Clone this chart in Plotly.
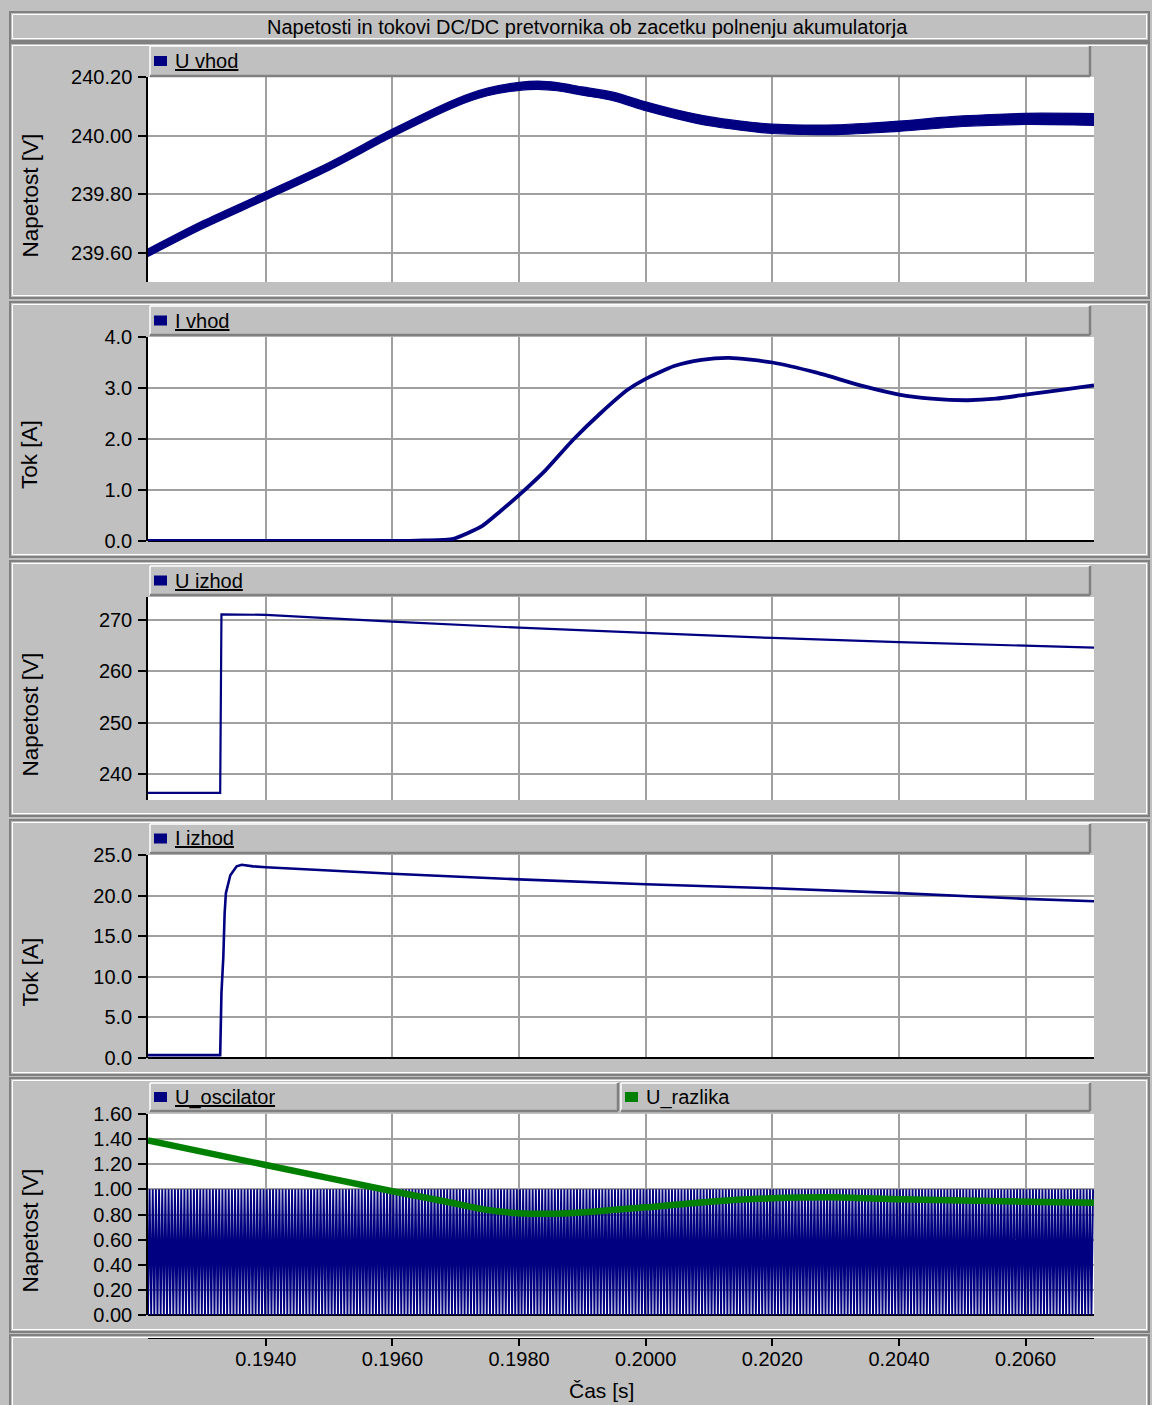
import numpy as np
import plotly.graph_objects as go

W, H = 1152, 1405
FONT = "Liberation Sans, Arial, sans-serif"
NAVY = "#000080"
GREEN = "#008000"
GRID = "#A0A0A0"
BG = "#C0C0C0"

# ---------------- data ----------------
x_range = [0.19214, 0.20708]
x_ticks = [0.1940, 0.1960, 0.1980, 0.2000, 0.2020, 0.2040, 0.2060]

t_uvhod = [0.19214, 0.1930, 0.1940, 0.1950, 0.1960, 0.1970, 0.1975, 0.1980, 0.1983, 0.1986,
           0.1990, 0.1995, 0.2000, 0.2005, 0.2010, 0.2015, 0.2020, 0.2025, 0.2030,
           0.2035, 0.2040, 0.2050, 0.2060, 0.20708]
u_vhod = [239.600, 239.695, 239.794, 239.895, 240.009, 240.112, 240.149, 240.168, 240.172, 240.167,
          240.152, 240.133, 240.100, 240.072, 240.049, 240.034, 240.023, 240.020, 240.020,
          240.025, 240.032, 240.049, 240.057, 240.055]
u_vhod_ripple = [0.026, 0.026, 0.026, 0.026, 0.026, 0.026, 0.026, 0.027, 0.028, 0.028,
                 0.028, 0.029, 0.030, 0.030, 0.031, 0.031, 0.032, 0.032, 0.033,
                 0.034, 0.035, 0.036, 0.038, 0.040]

t_ivhod = [0.19214, 0.1961, 0.1965, 0.1968, 0.19696, 0.1974, 0.1977, 0.1980, 0.19842,
           0.19885, 0.19929, 0.19972, 0.2000, 0.20045, 0.20088, 0.20132, 0.2020, 0.2027,
           0.20342, 0.2040, 0.20451, 0.20509, 0.20553, 0.2060, 0.20654, 0.20708]
i_vhod = [0.0, 0.0, 0.01, 0.02, 0.04, 0.28, 0.58, 0.90, 1.39,
          1.98, 2.51, 2.97, 3.18, 3.43, 3.55, 3.59, 3.50, 3.30,
          3.04, 2.87, 2.79, 2.76, 2.79, 2.87, 2.96, 3.05]

t_uizhod = [0.19214, 0.19328, 0.19330, 0.1940, 0.1960, 0.1980, 0.2000, 0.2020, 0.2040,
            0.2060, 0.20708]
u_izhod = [236.3, 236.3, 271.1, 271.0, 269.7, 268.5, 267.5, 266.5, 265.7, 264.95, 264.6]

t_iizhod = [0.19214, 0.19328, 0.19330, 0.19333, 0.19335, 0.19337, 0.19344, 0.19354,
            0.19362, 0.19380, 0.1940, 0.1960, 0.1980, 0.2000, 0.2020, 0.2040, 0.2060, 0.20708]
i_izhod = [0.35, 0.35, 8.0, 12.5, 17.8, 20.3, 22.5, 23.6,
           23.8, 23.6, 23.5, 22.7, 22.0, 21.4, 20.9, 20.3, 19.6, 19.3]

t_urazlika = [0.19214, 0.1940, 0.1960, 0.19686, 0.19744, 0.1980, 0.19879, 0.2000,
              0.20101, 0.2020, 0.20294, 0.2040, 0.2060, 0.20708]
u_razlika = [1.39, 1.194, 0.985, 0.902, 0.841, 0.81, 0.81, 0.857,
             0.902, 0.929, 0.937, 0.922, 0.902, 0.894]

# oscillator carrier: triangle between these levels with this period
osc_period = 5.0e-5
osc_levels = [0.0, 1.0]

# ---------------- geometry helpers ----------------
def fx(px):
    return px / W

def fy(py):
    return 1 - py / H

X0, X1 = 148, 1094
plots = [(77, 282), (337, 541), (597, 800), (855, 1058), (1114, 1315)]
panels = [(43, 298), (302, 557), (561, 816), (820, 1075), (1078, 1332)]
yranges = [[239.5, 240.2], [0, 4.0], [234.93, 274.48], [0, 25], [0, 1.6]]
yticks = [[239.6, 239.8, 240.0, 240.2],
          [0, 1, 2, 3, 4],
          [240, 250, 260, 270],
          [0, 5, 10, 15, 20, 25],
          [0, 0.2, 0.4, 0.6, 0.8, 1.0, 1.2, 1.4, 1.6]]
yfmt = ["{:.2f}", "{:.1f}", "{:.0f}", "{:.1f}", "{:.2f}"]
ytitles = ["Napetost [V]", "Tok [A]", "Napetost [V]", "Tok [A]", "Napetost [V]"]

fig = go.Figure()

# ---------------- traces ----------------
lo = [v - r / 2 for v, r in zip(u_vhod, u_vhod_ripple)]
hi = [v + r / 2 for v, r in zip(u_vhod, u_vhod_ripple)]
fig.add_trace(go.Scatter(x=t_uvhod, y=lo, mode="lines",
                         line=dict(color=NAVY, width=1.2, shape="spline", smoothing=0.8),
                         xaxis="x", yaxis="y", showlegend=False, hoverinfo="skip"))
fig.add_trace(go.Scatter(x=t_uvhod, y=hi, mode="lines",
                         line=dict(color=NAVY, width=1.2, shape="spline", smoothing=0.8),
                         fill="tonexty", fillcolor=NAVY,
                         xaxis="x", yaxis="y", showlegend=False))

fig.add_trace(go.Scatter(x=t_ivhod, y=i_vhod, mode="lines",
                         line=dict(color=NAVY, width=3.8, shape="spline", smoothing=0.6),
                         xaxis="x", yaxis="y2", showlegend=False))

fig.add_trace(go.Scatter(x=t_uizhod, y=u_izhod, mode="lines", line=dict(color=NAVY, width=2.2),
                         xaxis="x", yaxis="y3", showlegend=False))

fig.add_trace(go.Scatter(x=t_iizhod, y=i_izhod, mode="lines", line=dict(color=NAVY, width=2.6),
                         xaxis="x", yaxis="y4", showlegend=False))

n_half = int((x_range[1] - x_range[0]) / (osc_period / 2)) + 1
t_osc = [x_range[0] + k * osc_period / 2 for k in range(n_half)]
v_osc = [osc_levels[k % 2] for k in range(n_half)]
fig.add_trace(go.Scatter(x=t_osc, y=v_osc, mode="lines", line=dict(color=NAVY, width=1.9),
                         xaxis="x", yaxis="y5", showlegend=False))
fig.add_trace(go.Scatter(x=t_urazlika, y=u_razlika, mode="lines",
                         line=dict(color=GREEN, width=6.5, shape="spline", smoothing=0.6),
                         xaxis="x", yaxis="y5", showlegend=False))

# ---------------- axes ----------------
layout = dict(
    width=W, height=H, autosize=False,
    margin=dict(l=0, r=0, t=0, b=0, pad=0, autoexpand=False),
    paper_bgcolor=BG, plot_bgcolor="white",
    showlegend=False,
    font=dict(family=FONT, size=20, color="black"),
    xaxis=dict(domain=[fx(X0), fx(X1)], range=x_range, anchor="free", position=fy(1338),
               tickvals=x_ticks, ticktext=["{:.4f}".format(v) for v in x_ticks],
               showline=True, linecolor="black", linewidth=1.5,
               ticks="outside", ticklen=7, tickcolor="black", tickwidth=1.5,
               ticklabelstandoff=-4,
               showgrid=True, gridcolor=GRID, gridwidth=1.5, zeroline=False,
               tickfont=dict(family=FONT, size=20, color="black")),
)
for i in range(5):
    top, bot = plots[i]
    key = "yaxis" if i == 0 else "yaxis%d" % (i + 1)
    layout[key] = dict(
        domain=[fy(bot), fy(top)], range=yranges[i], anchor="x",
        tickvals=yticks[i], ticktext=[yfmt[i].format(v) for v in yticks[i]],
        showline=True, linecolor="black", linewidth=1.5,
        ticks="outside", ticklen=8, tickcolor="black", tickwidth=1.5,
        ticklabelstandoff=2,
        showgrid=True, gridcolor=GRID, gridwidth=1.5,
        zeroline=(yranges[i][0] == 0), zerolinecolor="black", zerolinewidth=1.5,
        tickfont=dict(family=FONT, size=20, color="black"),
    )
fig.update_layout(**layout)

# ---------------- frames, legends, texts ----------------
shapes = []
annotations = []

def etched(x0, y0, x1, y1):
    shapes.append(dict(type="rect", xref="paper", yref="paper", x0=fx(x0), x1=fx(x1),
                       y0=fy(y1), y1=fy(y0), line=dict(color="#808080", width=2), layer="above"))
    shapes.append(dict(type="rect", xref="paper", yref="paper", x0=fx(x0 + 2.5), x1=fx(x1 - 2.5),
                       y0=fy(y1 - 2.5), y1=fy(y0 + 2.5), line=dict(color="white", width=1), layer="above"))

etched(10, 12, 1149, 41)
for (a, b) in panels:
    etched(10, a, 1149, b)
etched(10, 1335, 1149, 1420)

def legend_box(x0, x1, y0, y1, color, label, underline):
    shapes.append(dict(type="rect", xref="paper", yref="paper", x0=fx(x0), x1=fx(x1),
                       y0=fy(y1), y1=fy(y0), fillcolor=BG, line=dict(width=0), layer="above"))
    for (a, b, c, d, col) in [(x0, y0, x1, y0, "white"), (x0, y0, x0, y1, "white"),
                              (x0, y1, x1, y1, "#808080"), (x1, y0, x1, y1, "#808080")]:
        shapes.append(dict(type="line", xref="paper", yref="paper", x0=fx(a), x1=fx(c),
                           y0=fy(b), y1=fy(d), line=dict(color=col, width=2.5 if col != "white" else 1.5),
                           layer="above"))
    ym = (y0 + y1) / 2
    shapes.append(dict(type="rect", xref="paper", yref="paper", x0=fx(x0 + 4), x1=fx(x0 + 17),
                       y0=fy(ym + 5), y1=fy(ym - 5), fillcolor=color, line=dict(width=0), layer="above"))
    txt = label
    if underline:
        txt = '<span style="text-decoration:underline">%s</span>' % label
    annotations.append(dict(xref="paper", yref="paper", x=fx(x0 + 23), y=fy(ym), text=txt,
                            showarrow=False, xanchor="left", yanchor="middle",
                            font=dict(family=FONT, size=20, color="black")))

legend_box(150, 1090, 46, 76, NAVY, "U vhod", True)
legend_box(150, 1090, 306, 335, NAVY, "I vhod", True)
legend_box(150, 1090, 566, 595, NAVY, "U izhod", True)
legend_box(150, 1090, 824, 853, NAVY, "I izhod", True)
legend_box(150, 618, 1083, 1111, NAVY, "U_oscilator", True)
legend_box(621, 1090, 1083, 1111, GREEN, "U_razlika", False)

annotations.append(dict(xref="paper", yref="paper", x=fx(587), y=fy(27),
                        text="Napetosti in tokovi DC/DC pretvornika ob zacetku polnenju akumulatorja",
                        showarrow=False, xanchor="center", yanchor="middle",
                        font=dict(family=FONT, size=20, color="black")))
for i in range(5):
    top, bot = plots[i]
    annotations.append(dict(xref="paper", yref="paper", x=fx(30), y=fy((top + bot) / 2 + 16),
                            text=ytitles[i], textangle=-90, showarrow=False,
                            xanchor="center", yanchor="middle",
                            font=dict(family=FONT, size=22.5, color="black")))
annotations.append(dict(xref="paper", yref="paper", x=fx(601), y=fy(1390), text="Čas [s]",
                        showarrow=False, xanchor="center", yanchor="middle",
                        font=dict(family=FONT, size=21, color="black")))

fig.update_layout(shapes=shapes, annotations=annotations)
fig.write_html("out.html")
